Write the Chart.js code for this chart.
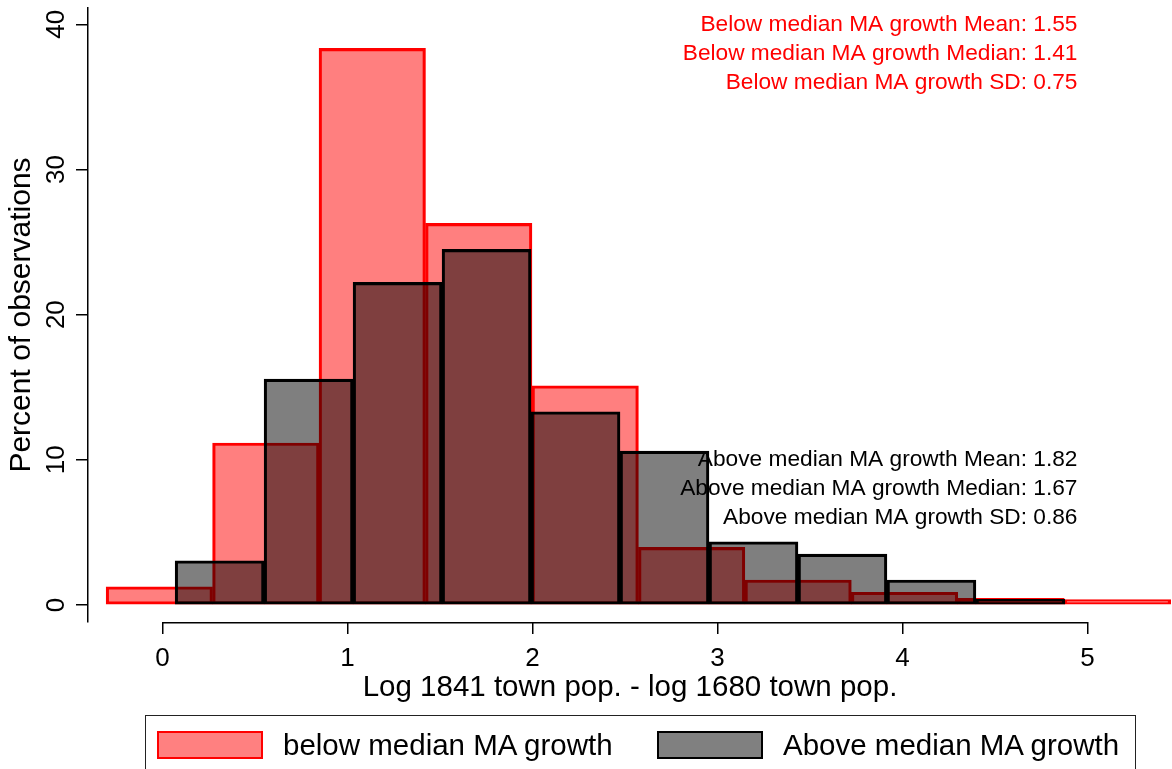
<!DOCTYPE html>
<html>
<head>
<meta charset="utf-8">
<script src="https://cdn.jsdelivr.net/npm/chart.js@4.4.0/dist/chart.umd.min.js"></script>
<style>
  html, body { margin: 0; padding: 0; background: #fff; }
  #wrap { position: relative; width: 1172px; height: 769px; overflow: hidden; }
  #legend {
    position: absolute; left: 145px; top: 715px; width: 991px; height: 80px;
    border: 1.5px solid #222; box-sizing: border-box;
    font-family: "Liberation Sans", Arial, sans-serif; font-size: 29.5px; color: #000;
  }
  .item { position: absolute; top: 15px; display: flex; align-items: center; height: 28px; }
  .sw { width: 106px; height: 28px; box-sizing: border-box; border: 2px solid; margin-right: 20px; }
</style>
</head>
<body>
<div id="wrap">
  <canvas id="hist" width="1172" height="769"></canvas>
  <div id="legend">
    <div class="item" style="left:11px"><span class="sw" style="background:#ff8080;border-color:#ff0000"></span>below median MA growth</div>
    <div class="item" style="left:511px"><span class="sw" style="background:#808080;border-color:#000"></span>Above median MA growth</div>
  </div>
</div>
<script>
// bins (percent of observations per bin)
const xTicks = [0, 1, 2, 3, 4, 5];
const yTicks = [0, 10, 20, 30, 40];

const belowStart = -0.305;
const belowWidth = 0.5755;
const belowPct = [1.26, 11.16, 38.34, 26.29, 15.10, 3.97, 1.72, 0.88, 0.46, 0.38];

const aboveStart = 0.068;
const aboveWidth = 0.481;
const abovePct = [3.05, 15.56, 22.22, 24.50, 13.31, 10.60, 4.36, 3.51, 1.72, 0.39];

const belowStats = [
  "Below median MA growth Mean: 1.55",
  "Below median MA growth Median: 1.41",
  "Below median MA growth SD: 0.75"
];
const belowStatsY = [40, 38, 36];
const aboveStats = [
  "Above median MA growth Mean: 1.82",
  "Above median MA growth Median: 1.67",
  "Above median MA growth SD: 0.86"
];
const aboveStatsY = [10, 8, 6];
const statsX = 5;

const FONT = "'Liberation Sans', Arial, sans-serif";

function bins(start, width, pct) {
  return pct.map((v, i) => ({ x: start + (i + 0.5) * width, y: v }));
}

// text blocks + the short x axis line (0..5) Stata draws under the plot
const stataBits = {
  id: "stataBits",
  afterDatasetsDraw(chart) {
    const { ctx, scales: { x, y } } = chart;
    ctx.save();
    ctx.font = "22.7px " + FONT;
    ctx.textAlign = "right";
    ctx.textBaseline = "middle";
    const px = x.getPixelForValue(statsX) - 10;
    ctx.fillStyle = "#ff0000";
    belowStats.forEach((t, i) => ctx.fillText(t, px, y.getPixelForValue(belowStatsY[i])));
    ctx.fillStyle = "#000";
    aboveStats.forEach((t, i) => ctx.fillText(t, px, y.getPixelForValue(aboveStatsY[i])));
    ctx.restore();
  },
  afterDraw(chart) {
    const { ctx, scales: { x }, chartArea } = chart;
    ctx.save();
    ctx.strokeStyle = "#000";
    ctx.lineWidth = 1.5;
    ctx.beginPath();
    ctx.moveTo(x.getPixelForValue(xTicks[0]), chartArea.bottom + 0.75);
    ctx.lineTo(x.getPixelForValue(xTicks[xTicks.length - 1]), chartArea.bottom + 0.75);
    ctx.stroke();
    ctx.restore();
  }
};

const keepTicks = (vals) => (scale) => { scale.ticks = vals.map(v => ({ value: v })); };

new Chart(document.getElementById("hist").getContext("2d"), {
  type: "bar",
  data: {
    datasets: [
      {
        label: "below median MA growth",
        data: bins(belowStart, belowWidth, belowPct),
        xAxisID: "x",
        backgroundColor: "rgba(255,0,0,0.5)",
        borderColor: "#ff0000",
        borderWidth: 2.5,
        borderSkipped: false,
        order: 2
      },
      {
        label: "Above median MA growth",
        data: bins(aboveStart, aboveWidth, abovePct),
        xAxisID: "x2",
        backgroundColor: "rgba(0,0,0,0.5)",
        borderColor: "#000000",
        borderWidth: 2.5,
        borderSkipped: false,
        order: 1
      }
    ]
  },
  options: {
    responsive: false,
    animation: false,
    grouped: false,
    barPercentage: 1,
    categoryPercentage: 1,
    layout: { padding: { top: 8, right: 0, bottom: 63, left: 0 } },
    plugins: { legend: { display: false }, tooltip: { enabled: false } },
    scales: {
      x: {
        type: "linear",
        offset: false,
        min: -0.403, max: 5.457,
        afterBuildTicks: keepTicks(xTicks),
        afterFit: (s) => { s.height = 84; s.paddingLeft = 0; s.paddingRight = 0; },
        border: { display: false },
        grid: { offset: false, drawOnChartArea: false, drawTicks: true, tickLength: 12, color: "#000", lineWidth: 1.5 },
        ticks: { color: "#000", font: { family: FONT, size: 26 }, padding: 9, maxRotation: 0 },
        title: {
          display: true, text: "Log 1841 town pop. - log 1680 town pop.",
          color: "#000", font: { family: FONT, size: 29.5 }, padding: 0
        }
      },
      x2: {
        type: "linear",
        display: false,
        offset: false,
        grid: { offset: false },
        min: -0.403, max: 5.457,
        afterBuildTicks: keepTicks(xTicks)
      },
      y: {
        type: "linear",
        min: -1.17, max: 41.12,
        afterBuildTicks: keepTicks(yTicks),
        afterFit: (s) => { s.width = 88; s.paddingTop = 0; s.paddingBottom = 0; },
        border: { display: true, color: "#000", width: 1.5 },
        grid: { drawOnChartArea: false, drawTicks: true, tickLength: 12, color: "#000", lineWidth: 1.5 },
        ticks: {
          color: "#000", font: { family: FONT, size: 26 },
          minRotation: 90, maxRotation: 90, crossAlign: "center", padding: 5
        },
        title: {
          display: true, text: "Percent of observations",
          color: "#000", font: { family: FONT, size: 30 }, padding: { top: 4, bottom: 0 }
        }
      }
    }
  },
  plugins: [stataBits]
});
</script>
</body>
</html>
